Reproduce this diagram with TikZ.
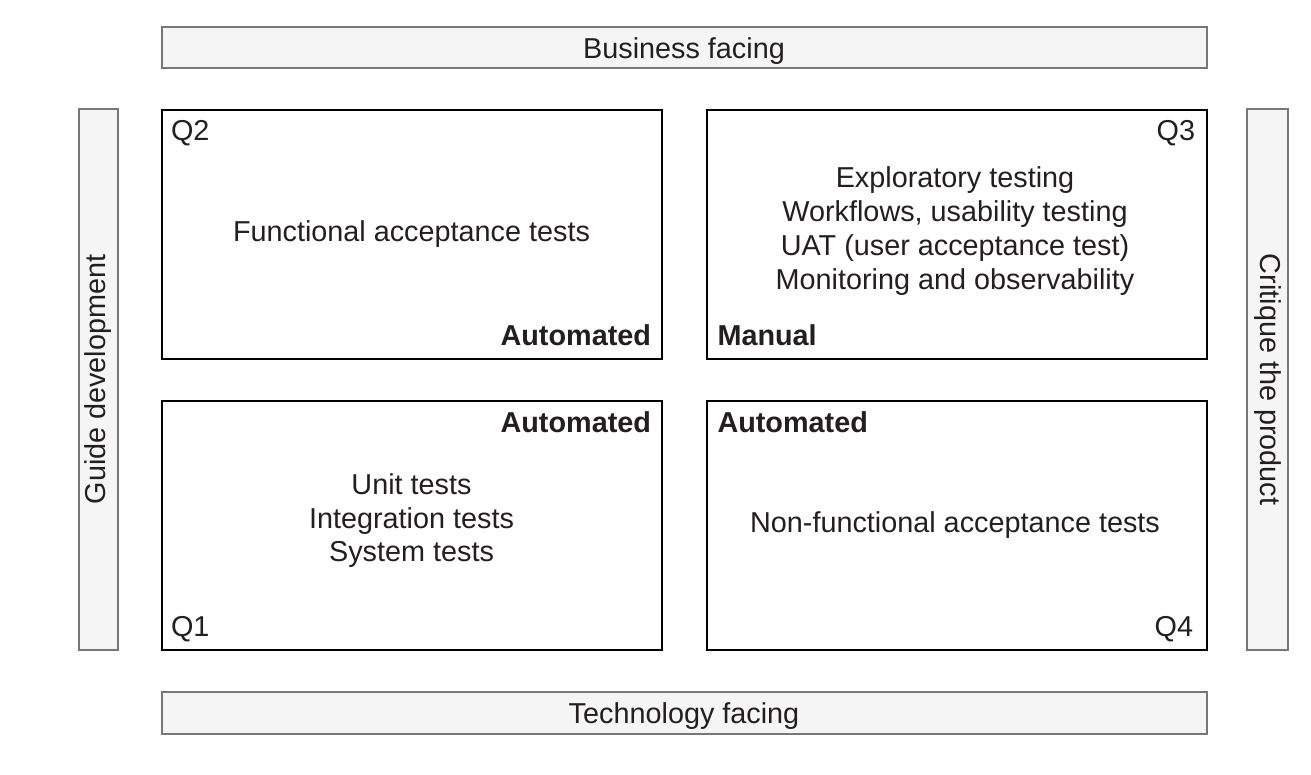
\documentclass[tikz,border=0pt]{standalone}
\usepackage{fontspec}
\setmainfont{Liberation Sans}
\definecolor{txt}{HTML}{231F20}
\definecolor{barfill}{HTML}{F4F5F4}
\definecolor{barline}{HTML}{777777}
\begin{document}
\begin{tikzpicture}[x=1pt,y=-1pt,
  every node/.style={inner sep=0pt,outer sep=0pt,text=txt,font=\fontsize{28.8}{34.5}\selectfont},
  qbox/.style={draw=black,line width=2pt,fill=white,rectangle},
  bar/.style={draw=barline,line width=2pt,fill=barfill,rectangle},
  lbl/.style={anchor=base},
  blbl/.style={font=\fontsize{28.8}{34.5}\selectfont\bfseries}]
\useasboundingbox[fill=white] (0,0) rectangle (1311,774);
% bars
\node[bar,minimum width=1045,minimum height=41] (top) at (684,47.5) {};
\node[bar,minimum width=1045,minimum height=41.5] (bottom) at (684,712.75) {};
\node[bar,minimum width=39.5,minimum height=541] (left) at (98.25,379.5) {};
\node[bar,minimum width=41,minimum height=541] (right) at (1267.5,379.5) {};
\node[lbl] (toptxt) at (684,58) {Business facing};
\node[lbl] (bottxt) at (684,723) {Technology facing};
\node[anchor=base,rotate=90] (lefttxt) at (105,379.5) {Guide development};
\node[anchor=base,rotate=-90] (righttxt) at (1260.5,379.5) {Critique the product};
% quadrants
\node[qbox,minimum width=500,minimum height=249.5] (q2) at (411.5,234.25) {};
\node[qbox,minimum width=499.5,minimum height=249.5] (q3) at (956.75,234.25) {};
\node[qbox,minimum width=500,minimum height=249] (q1) at (411.5,525.5) {};
\node[qbox,minimum width=499.5,minimum height=249] (q4) at (956.75,525.5) {};
% Q2
\node[anchor=base west] (q2lab) at (171,140) {Q2};
\node[lbl] (q2t) at (411.5,241) {Functional acceptance tests};
\node[anchor=base east,blbl] (q2a) at (651,345) {Automated};
% Q3
\node[anchor=base east] (q3lab) at (1195,140) {Q3};
\node[lbl] (q3t1) at (955,187) {Exploratory testing};
\node[lbl] (q3t2) at (955,221) {Workflows, usability testing};
\node[lbl] (q3t3) at (955,255) {UAT (user acceptance test)};
\node[lbl] (q3t4) at (955,289.5) {Monitoring and observability};
\node[anchor=base west,blbl] (q3m) at (717.5,345) {Manual};
% Q1
\node[anchor=base east,blbl] (q1a) at (651,432) {Automated};
\node[lbl] (q1t1) at (411.5,494.3) {Unit tests};
\node[lbl] (q1t2) at (411.5,528.3) {Integration tests};
\node[lbl] (q1t3) at (411.5,561.7) {System tests};
\node[anchor=base west] (q1lab) at (171,636) {Q1};
% Q4
\node[anchor=base west,blbl] (q4a) at (717.5,432) {Automated};
\node[lbl] (q4t) at (955,532.3) {Non-functional acceptance tests};
\node[anchor=base east] (q4lab) at (1193,636) {Q4};
\end{tikzpicture}
\end{document}
